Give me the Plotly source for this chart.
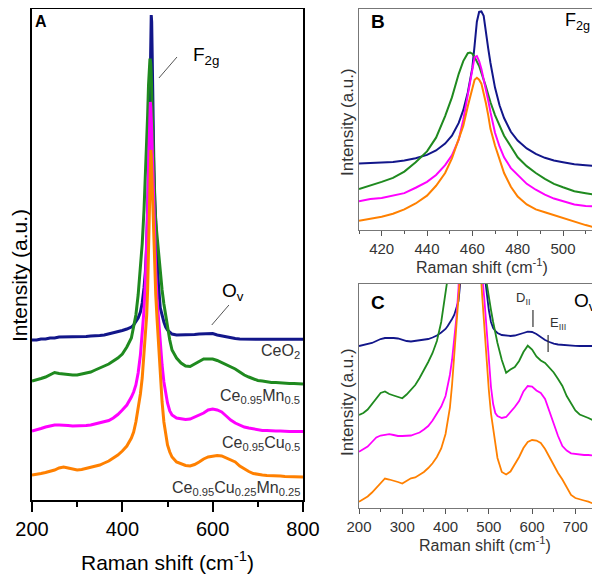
import plotly.graph_objects as go

# ---------------- Panel A (full spectra) ----------------
xa = [200, 210, 220, 230, 240, 250, 260, 270, 280, 290, 300, 310, 320, 330, 340, 350, 360, 370, 380, 390, 400, 410, 420,
      425, 430, 435, 440,
      444, 448, 451, 454, 456, 458,
      459, 460, 461, 462, 463, 464, 465, 466, 467, 468,
      470, 472, 474, 477, 480, 484, 488, 492, 496, 500,
      505, 510,
      520, 530, 540, 550, 560, 570, 580, 590, 600, 610, 620, 630, 640, 650, 660, 670, 680, 690, 700, 710, 720, 730, 740,
      750, 760, 770, 780, 790, 800]

a_ceo2 = [160, 160, 161, 161, 162, 162, 163, 163, 163, 163, 163, 163, 163.5, 164, 164, 164.5, 165, 166, 167, 168, 169.5, 171, 173,
          175, 178, 182, 188,
          197, 212, 228, 255, 282, 320,
          342, 370, 415, 462, 482, 485, 478, 442, 410, 380,
          330, 300, 275, 250, 215, 192, 184, 178, 173, 170,
          168, 166,
          165, 165, 165, 165, 165.5, 166, 166, 166.5, 166.5, 165, 164, 163, 162, 161.5, 161, 160.8, 160.7, 160.7, 160.7,
          160.7, 160.7, 160.7, 160.7, 160.7, 160.7, 160.7, 160.7, 160.7, 160.7]
a_mn = [119, 120, 121.5, 123, 125.5, 127.5, 126.5, 126, 125, 125, 125, 126, 127, 128, 130, 132, 134, 136, 139, 142, 146, 153, 162,
        172, 185, 205, 230,
        256, 290, 320, 355, 385, 415,
        428, 437, 440, 440, 436, 425, 405, 385, 365, 350,
        320, 295, 278, 262, 245, 225, 210, 196, 184, 173,
        160, 150,
        142, 137, 134, 133.5, 136, 139, 141, 141, 141, 139.5, 137.5, 135, 133, 131, 128, 125, 123, 121, 119.5, 119, 118,
        117.5, 117.5, 117, 117, 116.5, 116.5, 116, 116]
a_cu = [69, 70, 71.5, 73, 74, 75, 75, 75, 74.5, 74, 74, 74, 74.5, 75, 76, 77, 78, 79.5, 82, 85.5, 90, 95, 103,
        108, 115, 127, 145,
        165, 190, 218, 255, 290, 335,
        360, 380, 395, 398, 393, 385, 370, 355, 338, 320,
        285, 255, 228, 200, 180, 155, 135, 118, 106, 97,
        89, 85,
        82, 81, 80.5, 81, 83, 85.5, 87, 90, 91, 90, 88, 84, 80, 77, 75, 73, 72, 71, 70, 69.5, 69.5, 69, 69, 69, 68.5,
        68.5, 68.5, 68.5, 68.5]
a_cumn = [25, 25.5, 26.5, 27.5, 28.5, 30, 32, 33, 32, 31, 30, 30.5, 31.5, 32.5, 34, 35, 37, 39, 42, 45, 49, 54, 62,
          68, 78, 90, 106,
          122, 145, 165, 185, 210, 250,
          280, 310, 335, 348, 350, 345, 330, 320, 300, 280,
          250, 228, 205, 180, 155, 125, 98, 78, 64, 55,
          48, 43,
          38, 36, 34.5, 34, 35.5, 38, 41, 43, 44, 44.5, 44, 42, 40, 38, 34, 31, 28.5, 26.5, 25.5, 25, 24.5, 24.5, 24,
          24, 23.5, 23.5, 23.5, 23, 23]

# ---------------- Panel B (F2g zoom) ----------------
xb = [410, 415, 420, 425, 430, 435, 440, 444, 448, 451, 454, 456, 458, 459, 460, 461, 462, 463, 464, 465, 466, 467, 468,
      470, 472, 474, 477, 480, 484, 488, 492, 496, 500, 505, 510, 515]
b_ceo2 = [67.7, 68, 68.5, 69.3, 70.8, 73, 76.5, 81, 88, 96, 109, 122, 140, 151, 165, 188, 212, 222, 222.5, 218, 200, 185, 170,
          145, 127, 114, 100, 91, 83, 77.5, 73.5, 70.7, 69, 67, 66, 65]
b_mn = [41.7, 45, 49, 53, 59.5, 69, 80, 94, 116, 135, 159, 172, 180, 180.7, 179.5, 176, 172, 167, 160, 154, 146, 138, 130,
        117, 106, 96, 85, 74, 65, 58, 52, 47, 43.5, 39.5, 37.5, 35.7]
b_cu = [29.3, 31.5, 32.5, 35, 37.5, 43, 49, 56, 66, 76, 92, 112, 136, 150, 164, 176, 177, 172, 164, 154, 143, 132, 120,
        99, 85, 74, 63, 56, 47, 41, 36, 32, 29, 26, 24.5, 24]
b_cumn = [9.3, 11.5, 13.5, 16.5, 21, 27, 35, 45, 58, 73, 92, 106, 126, 135, 144, 153, 155, 153, 149, 140, 129, 117, 103,
          86, 71, 58, 44, 34, 26, 21, 18, 15, 12, 8.5, 5, 2]

# ---------------- Panel C (Ov zoom) ----------------
xc = [200, 210, 220, 230, 240, 250, 260, 270, 280, 290, 300, 310, 320, 330, 340, 350, 360, 370, 380, 390, 400,
      405, 410, 415, 420, 425, 430, 435, 440,
      460,
      480, 485, 490, 495, 500, 505, 510, 515,
      520, 530, 540, 550, 560, 570, 580, 590, 600, 610, 620, 630, 640, 650, 660, 670, 680, 690, 700, 710, 720, 730,
      740, 750]
c_ceo2 = [162, 163, 164.5, 165, 167, 169, 170, 170.3, 170, 169.5, 168, 167, 166.5, 167, 167.3, 168, 169, 170.5, 172.5, 175.5, 179,
          182, 185, 189, 193, 199, 207, 230, 260,
          600,
          300, 265, 234, 215, 198, 186, 180, 177,
          175, 173, 172.3, 172, 172.5, 173.5, 175, 176.3, 176, 174, 171, 168, 166, 164.3, 163.5, 163, 162.5, 162.3, 162.2,
          162, 162, 162, 162, 162]
c_mn = [93, 95, 98.5, 104, 110, 115, 116.5, 114, 112.5, 111, 109.7, 113.5, 118, 123, 130, 137.5, 146, 155, 167, 186, 212,
        228, 245, 265, 290, 320, 350, 400, 450,
        800,
        400, 320, 250, 225, 210, 198, 186, 175,
        165, 148, 135.3, 138.5, 141, 147, 156, 162.3, 158.5, 151.5, 147.5, 145, 140.5, 135.5, 129, 122, 112, 105, 97.5,
        93.5, 92, 90, 88, 86]
c_cu = [56.3, 58.5, 61.5, 66, 70.5, 72.5, 73.5, 73.8, 73, 72, 72, 72, 72.5, 74, 75.5, 78.5, 82, 87.5, 94, 101.5, 112,
        122, 133, 148, 167, 190, 220, 260, 300,
        800,
        280, 232, 207, 175, 145, 121, 104, 95,
        92, 90, 91, 95.5, 101, 107, 116.5, 122, 121.5, 117.5, 115, 109, 97, 83.5, 72, 62, 57.5, 54.7, 54, 53.5, 53,
        53, 52.5, 52.3]
c_cumn = [6.3, 8.5, 11.5, 15.5, 20, 25, 29.5, 28.5, 27.5, 26, 24.5, 27, 29.7, 30.5, 33, 36, 40, 44.7, 51, 59.5, 74,
          86, 100, 123, 148, 175, 205, 232, 270,
          800,
          245, 210, 178, 145, 118, 94.7, 78, 65,
          50, 36, 33.5, 36.5, 43.5, 51, 60, 66, 68, 67.5, 65, 59, 51, 42.5, 35, 28.5, 20, 13, 10, 8.5, 7.5, 6.3, 4.5, 3]

names = ["CeO2", "Ce0.95Mn0.5", "Ce0.95Cu0.5", "Ce0.95Cu0.25Mn0.25"]
colors = ["#12168a", "#1f8a1f", "#ff00ff", "#ff8000"]

# page has an 8px body margin, so the figure is drawn 8px in from the top-left corner;
# keep the page from overflowing the 600x582 window
OFF = 8
W, H = 592, 566
FONT = "Liberation Sans, Arial, sans-serif"

def px(xp):
    return min(1.0, max(0.0, (xp - OFF) / W))

def py(yp):
    return min(1.0, max(0.0, 1 - (yp - OFF) / H))

fig = go.Figure()

for ys, nm, col in zip([a_ceo2, a_mn, a_cu, a_cumn], names, colors):
    fig.add_trace(go.Scatter(x=xa, y=ys, mode="lines", name=nm, line=dict(color=col, width=3),
                             xaxis="x", yaxis="y", showlegend=False))
for ys, nm, col in zip([b_ceo2, b_mn, b_cu, b_cumn], names, colors):
    fig.add_trace(go.Scatter(x=xb, y=ys, mode="lines", name=nm, line=dict(color=col, width=2),
                             xaxis="x2", yaxis="y2", showlegend=False))
for ys, nm, col in zip([c_ceo2, c_mn, c_cu, c_cumn], names, colors):
    fig.add_trace(go.Scatter(x=xc, y=ys, mode="lines", name=nm, line=dict(color=col, width=1.8),
                             xaxis="x3", yaxis="y3", showlegend=False))

frameA = dict(showline=True, mirror=True, linecolor="black", linewidth=1.5, showgrid=False, zeroline=False,
              automargin=False)
frameBC = dict(showline=True, mirror=True, linecolor="#777777", linewidth=1.2, showgrid=False, zeroline=False,
               automargin=False)

fig.update_layout(
    template="none",
    width=W, height=H, margin=dict(l=0, r=0, t=0, b=0, pad=0, autoexpand=False),
    paper_bgcolor="white", plot_bgcolor="white", showlegend=False,
    font=dict(family=FONT, color="black"),
    xaxis=dict(domain=[px(32), px(303)], range=[200, 800], anchor="y", tickmode="linear", tick0=200, dtick=200,
               ticks="outside", ticklen=10, tickwidth=1.5, tickcolor="black",
               tickfont=dict(size=20, color="black"),
               minor=dict(ticks="outside", ticklen=5, dtick=100, tickwidth=1.5, tickcolor="black"), **frameA),
    yaxis=dict(domain=[py(500), py(9)], range=[0, 491], anchor="x", showticklabels=False, ticks="", **frameA),
    xaxis2=dict(domain=[px(359), px(597)], range=[410, 515], anchor="y2", tickmode="linear", tick0=420, dtick=20,
                ticks="outside", ticklen=5, tickcolor="#555555", tickfont=dict(size=15, color="#333333"),
                minor=dict(ticks="outside", ticklen=3, dtick=10, tickcolor="#555555"), **frameBC),
    yaxis2=dict(domain=[py(230), py(9)], range=[0, 225], anchor="x2", showticklabels=False, ticks="", **frameBC),
    xaxis3=dict(domain=[px(359), px(597)], range=[200, 750], anchor="y3", tickmode="linear", tick0=200, dtick=100,
                ticks="outside", ticklen=5, tickcolor="#555555", tickfont=dict(size=15, color="#333333"),
                minor=dict(ticks="outside", ticklen=3, dtick=50, tickcolor="#555555"), **frameBC),
    yaxis3=dict(domain=[py(508), py(284)], range=[0, 224], anchor="x3", showticklabels=False, ticks="", **frameBC),
)

def ann(text, x, y, size, color="black", angle=0, xanchor="center", bold=False):
    if bold:
        text = "<b>" + text + "</b>"
    fig.add_annotation(text=text, x=px(x), y=py(y), xref="paper", yref="paper", showarrow=False,
                       font=dict(size=size, color=color, family=FONT), textangle=angle,
                       xanchor=xanchor, yanchor="middle")

# Panel A text
ann("Intensity (a.u.)", 19, 276, 21, angle=-90)
ann("Raman shift (cm<sup>-1</sup>)", 167, 561, 21)
ann("A", 41, 22, 16, bold=True)
ann("F<sub>2g</sub>", 206, 56, 19)
ann("O<sub>v</sub>", 233, 292, 19)
ann("CeO<sub>2</sub>", 302, 351, 16, color="#333333", xanchor="right")
ann("Ce<sub>0.95</sub>Mn<sub>0.5</sub>", 302, 396, 16, color="#333333", xanchor="right")
ann("Ce<sub>0.95</sub>Cu<sub>0.5</sub>", 302, 443, 16, color="#333333", xanchor="right")
ann("Ce<sub>0.95</sub>Cu<sub>0.25</sub>Mn<sub>0.25</sub>", 302, 488, 16, color="#333333", xanchor="right")

# Panel B text
ann("Intensity (a.u.)", 347, 122, 17, color="#333333", angle=-90)
ann("Raman shift (cm<sup>-1</sup>)", 482, 266, 16, color="#333333")
ann("B", 378, 21, 19, bold=True)
ann("F<sub>2g</sub>", 577, 21, 18)

# Panel C text
ann("Intensity (a.u.)", 347, 402, 17, color="#333333", angle=-90)
ann("Raman shift (cm<sup>-1</sup>)", 485, 544, 16, color="#333333")
ann("C", 378, 302, 19, bold=True)
ann("O<sub>v</sub>", 585, 302, 19)
ann("D<sub>II</sub>", 523, 298, 13, color="#333333")
ann("E<sub>III</sub>", 558, 323, 13, color="#333333")

# marker lines
fig.add_shape(type="line", xref="x", yref="y", x0=481, y0=422, x1=521, y1=443, line=dict(color="#555555", width=1))
fig.add_shape(type="line", xref="x", yref="y", x0=598, y0=175, x1=636, y1=195, line=dict(color="#555555", width=1))
fig.add_shape(type="line", xref="x3", yref="y3", x0=602, y0=181, x1=602, y1=198, line=dict(color="#333333", width=1.2))
fig.add_shape(type="line", xref="x3", yref="y3", x0=637, y0=156, x1=637, y1=173, line=dict(color="#333333", width=1.2))

fig.write_html("out.html")
